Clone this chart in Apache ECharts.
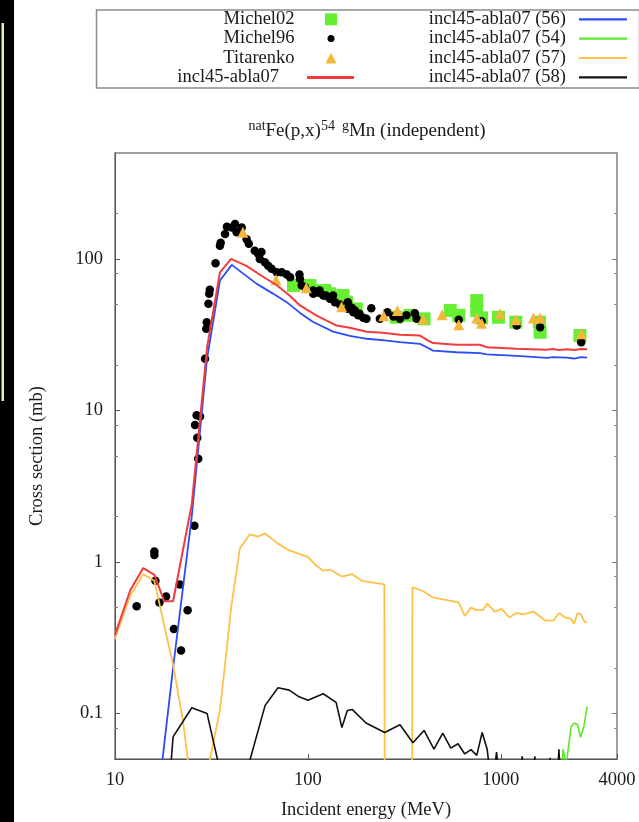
<!DOCTYPE html>
<html>
<head>
<meta charset="utf-8">
<script src="https://cdn.jsdelivr.net/npm/echarts@6/dist/echarts.min.js"></script>
<style>
  html, body { margin: 0; padding: 0; background: #fff; }
  #chart { width: 639px; height: 822px; }
</style>
</head>
<body>
<div id="chart"></div>
<script>
// natFe(p,x)54gMn independent cross section: measurements vs incl45-abla07
const FONT = '"Liberation Serif", "DejaVu Serif", serif';

const xTickValues = [10, 100, 1000, 4000];
const yTickValues = [0.1, 1, 10, 100];
const yMinorTickValues = [0.08, 0.2, 0.5, 0.8, 2, 5, 8, 20, 50, 80, 200];

// measurements [energy MeV, cross section mb]
const michel02 = [
  [84.2, 66.7], [102.5, 66.7], [113, 61.8], [122.5, 61.8], [130, 58.8], [149.5, 55.8],
  [152, 57.3], [158.5, 51.8], [178, 46.8], [287, 41.2], [338, 42.4], [400, 40.2],
  [547, 45.6], [605, 42.4], [750, 53.1], [750, 45.6], [795, 40.8], [972, 41.2],
  [1196, 38.2], [1585, 38.2], [1598, 32.8], [2570, 31.2]
];

const michel96 = [
  [12.95, 0.51], [16.0, 1.17], [16.0, 1.11], [16.2, 0.75], [17.0, 0.54], [18.4, 0.59],
  [20.2, 0.36], [21.7, 0.71], [22.0, 0.26], [23.8, 0.48], [25.8, 1.73], [26.0, 8.0],
  [26.5, 9.3], [26.7, 6.6], [27.0, 4.8], [27.6, 9.1], [29.3, 21.9], [29.7, 34.6],
  [29.9, 38.2], [30.5, 50.5], [30.8, 58.8], [31.0, 62.5], [33.2, 93.6], [35.0, 122],
  [35.3, 128], [37.2, 146], [38.0, 163], [40.3, 161], [41.9, 170], [42.7, 150],
  [45.4, 161], [48.1, 135], [49.4, 126], [53.0, 113], [55.2, 108], [57.4, 111],
  [56.3, 100], [59.8, 95], [62.2, 90], [64.8, 86], [68.9, 81.6], [73.1, 81.6],
  [77.7, 79], [80.9, 75.6], [90.4, 79], [91.0, 73.8], [92.9, 66.7], [96.6, 65],
  [106.6, 61.8], [106.6, 58.8], [113, 60], [115, 61.8], [120, 57.3], [124, 57.3],
  [130, 54.5], [135, 57.3], [138, 51.8], [146.5, 50], [161, 51.8], [161, 46.8],
  [168.6, 47.5], [172, 44.5], [175, 45.6], [182, 42.4], [185, 43.4], [193.5, 40.9],
  [201, 40.2], [213, 47.3], [236, 40.2], [258, 44.5], [277.5, 41.6], [300, 40.2],
  [324, 42.4], [358, 43.8], [366, 40.2], [605, 39.6], [795, 38.8], [1208, 36.3],
  [1598, 35.4], [2610, 28.2]
];

const titarenko = [
  [46, 150], [68.3, 72.7], [98.1, 64.4], [149.5, 48.4], [247, 42.2], [291, 45.6],
  [396, 40.2], [496, 42.8], [605, 36.7], [750, 40.8], [795, 37.6], [993, 43.4],
  [1196, 39.6], [1475, 40.8], [1598, 40.8], [2610, 32.0]
];

// incl45-abla07 calculations [energy MeV, cross section mb]
const calcTotal = [
  [10, 0.33], [12, 0.65], [14, 0.91], [16, 0.82], [18, 0.55], [20, 0.55],
  [25, 2.4], [30, 26], [35, 81.6], [40, 100], [48, 90], [57, 78], [69, 67],
  [80, 57.5], [91, 49.3], [111, 42.2], [141, 36.3], [165, 35.1], [202, 33],
  [244, 32.5], [300, 31.6], [381, 31.2], [420, 28.9], [445, 27.8], [590, 27.1],
  [780, 27.1], [845, 26.1], [1208, 25.5], [1729, 25.1], [1862, 25.4], [2000, 25.0],
  [2200, 25.3], [2400, 25.0], [2600, 25.4], [2800, 25.3]
];

const calc56 = [
  [17.5, 0.046], [20, 0.2], [25, 2.0], [30, 22], [35, 72], [40.3, 91.3],
  [54.3, 68.4], [65.9, 59.0], [77.6, 51.8], [91, 44], [106, 38.5], [135, 33.1],
  [165, 31], [202, 29.7], [250, 29], [300, 28.2], [381, 27.5], [413, 26.1],
  [445, 24.8], [590, 24.2], [780, 23.9], [845, 23.4], [1208, 22.9], [1729, 22.2],
  [1862, 22.5], [2196, 22.3], [2400, 22.0], [2600, 22.5], [2800, 22.3]
];

const calc54 = [
  [2050, 0.03], [2100, 0.058], [2180, 0.045], [2310, 0.0812], [2400, 0.0864],
  [2500, 0.0842], [2590, 0.0694], [2690, 0.0812], [2800, 0.1108]
];

const calc57 = [
  [10, 0.31], [12, 0.6], [14, 0.83], [16, 0.75], [18, 0.38], [20, 0.21],
  [22.5, 0.09], [25, 0.03], [30, 0.04], [35, 0.105], [38, 0.27], [40, 0.5],
  [44.4, 1.23], [50, 1.52], [55, 1.47], [60, 1.54], [70, 1.32], [80, 1.19],
  [100, 1.08], [110, 0.95], [120, 0.875], [130, 0.89], [150, 0.8], [170, 0.83],
  [190, 0.75], [249, 0.71], [251, 0.001], [346, 0.001], [348, 0.68], [396, 0.64],
  [447, 0.58], [605, 0.54], [650, 0.44], [700, 0.5], [750, 0.48], [805, 0.48],
  [850, 0.53], [930, 0.47], [1010, 0.49], [1105, 0.43], [1208, 0.46], [1310, 0.45],
  [1475, 0.47], [1695, 0.41], [1870, 0.41], [2010, 0.46], [2150, 0.43], [2310, 0.42],
  [2395, 0.39], [2500, 0.46], [2600, 0.45], [2720, 0.4], [2790, 0.4]
];

const calc58 = [
  [19, 0.03], [20, 0.07], [25, 0.109], [30, 0.1], [35, 0.042], [40, 0.01],
  [45, 0.01], [50, 0.049], [60, 0.113], [70, 0.1475], [80, 0.1424], [90, 0.1286],
  [100, 0.122], [120, 0.1348], [140, 0.1182], [150, 0.0806], [160, 0.1045],
  [170, 0.106], [200, 0.0864], [250, 0.0748], [300, 0.0841], [350, 0.064],
  [400, 0.0772], [450, 0.058], [500, 0.074], [550, 0.059], [600, 0.063],
  [650, 0.054], [700, 0.0577], [750, 0.0528], [800, 0.0748], [850, 0.0577],
  [900, 0.03], [950, 0.0555], [1000, 0.03], [1250, 0.03], [1290, 0.052],
  [1350, 0.03], [1450, 0.03], [1500, 0.052], [1550, 0.03], [1750, 0.03],
  [1800, 0.051], [1850, 0.03], [1950, 0.03], [2000, 0.058], [2050, 0.03]
];

const COLORS = {
  michel02: '#66ee33', michel96: '#000000', titarenko: '#f5b73b',
  total: '#f03c3c', c56: '#2d4cf5', c54: '#5aea2a', c57: '#fdc149', c58: '#111111'
};

const chart = echarts.init(document.getElementById('chart'), null, { renderer: 'canvas' });

const LEGEND_FONT = 18.5;

// one legend block per entry: text right-aligned, sample to its right
function legendEntry(name, iconRight, rowCenter, itemWidth, itemHeight, icon, gap) {
  return {
    data: [{ name: name, icon: icon }],
    right: 639 - iconRight,
    top: rowCenter - 9.5,
    orient: 'horizontal',
    align: 'right',
    padding: 0,
    itemGap: 0,
    itemWidth: itemWidth,
    itemHeight: itemHeight,
    selectedMode: false,
    formatter: n => '{t|' + n + '}',
    textStyle: {
      fontFamily: FONT, fontSize: LEGEND_FONT, color: '#1a1a1a',
      rich: { t: { fontFamily: FONT, fontSize: LEGEND_FONT, lineHeight: 19, color: '#1a1a1a', padding: [0, gap - 5, 0, 0] } }
    }
  };
}

const rows = [19.3, 38.6, 58, 77.4];
const TEXT_END_LEFT = 294.5;
const TEXT_END_RIGHT = 566;

function logAxisCommon() {
  return {
    type: 'log', logBase: 10, min: 0.05, max: 500,
    splitLine: { show: false }
  };
}

const yFormat = v => (v >= 1 ? String(Math.round(v)) : String(+v.toPrecision(2)));

const option = {
  animation: false,
  backgroundColor: '#ffffff',
  title: {
    text: '{s|nat}Fe(p,x){s|54\u2002g}Mn (independent)',
    left: 362,
    textAlign: 'center',
    top: 114,
    textStyle: {
      fontFamily: FONT, fontSize: 19, fontWeight: 'normal', color: '#1a1a1a', lineHeight: 24,
      rich: { s: { fontFamily: FONT, fontSize: 14, color: '#1a1a1a', verticalAlign: 'top', lineHeight: 14 } }
    }
  },
  legend: [
    legendEntry('Michel02', 337, rows[0], 12, 12, 'rect', 331 - 6 - TEXT_END_LEFT),
    legendEntry('Michel96', 334.5, rows[1], 7, 7, 'circle', 331 - 3.5 - TEXT_END_LEFT),
    legendEntry('Titarenko', 336.5, rows[2], 11, 11, 'triangle', 331 - 5.5 - TEXT_END_LEFT),
    legendEntry('incl45-abla07', 354, rows[3], 47, 3, 'rect', 307 - 279),
    legendEntry('incl45-abla07 (56)', 627, rows[0], 48, 2.2, 'rect', 579 - TEXT_END_RIGHT),
    legendEntry('incl45-abla07 (54)', 627, rows[1], 48, 2.2, 'rect', 579 - TEXT_END_RIGHT),
    legendEntry('incl45-abla07 (57)', 627, rows[2], 48, 2.2, 'rect', 579 - TEXT_END_RIGHT),
    legendEntry('incl45-abla07 (58)', 627, rows[3], 48, 2.2, 'rect', 579 - TEXT_END_RIGHT)
  ],
  grid: {
    left: 115, right: 22, top: 153, bottom: 63,
    outerBoundsMode: 'none',
    containLabel: false,
    show: true, borderColor: '#808080', borderWidth: 1.5, backgroundColor: 'transparent'
  },
  xAxis: [{
    type: 'log', logBase: 10, min: 10, max: 4000,
    position: 'bottom',
    name: 'Incident energy (MeV)',
    nameLocation: 'middle',
    nameGap: 42,
    nameTextStyle: { fontFamily: FONT, fontSize: 18.5, color: '#1a1a1a' },
    axisLine: { show: true, lineStyle: { color: '#555', width: 1 } },
    axisTick: { show: true, inside: true, length: 5, customValues: xTickValues, lineStyle: { color: '#555' } },
    axisLabel: {
      customValues: xTickValues, margin: 12,
      fontFamily: FONT, fontSize: 18.5, color: '#1a1a1a',
      formatter: v => String(Math.round(v))
    },
    splitLine: { show: false },
    minorTick: { show: false }
  }],
  yAxis: [
    Object.assign(logAxisCommon(), {
      position: 'left',
      name: 'Cross section (mb)',
      nameLocation: 'middle',
      nameGap: 68,
      nameTextStyle: { fontFamily: FONT, fontSize: 18.5, color: '#1a1a1a' },
      axisLine: { show: true, lineStyle: { color: '#555', width: 1 } },
      axisTick: { show: true, inside: true, length: 5, customValues: yTickValues, lineStyle: { color: '#555' } },
      axisLabel: {
        customValues: yTickValues, margin: 12,
        fontFamily: FONT, fontSize: 18.5, color: '#1a1a1a',
        formatter: yFormat
      }
    }),
    Object.assign(logAxisCommon(), {
      position: 'left',
      axisLine: { show: false },
      axisTick: { show: true, inside: true, length: 3, customValues: yMinorTickValues, lineStyle: { color: '#777' } },
      axisLabel: { show: false }
    }),
    Object.assign(logAxisCommon(), {
      position: 'right',
      axisLine: { show: false },
      axisTick: { show: true, inside: true, length: 5, customValues: yTickValues, lineStyle: { color: '#777' } },
      axisLabel: { show: false }
    }),
    Object.assign(logAxisCommon(), {
      position: 'right',
      axisLine: { show: false },
      axisTick: { show: true, inside: true, length: 3, customValues: yMinorTickValues, lineStyle: { color: '#888' } },
      axisLabel: { show: false }
    })
  ],
  graphic: [
    // dark strip along the left edge
    { type: 'rect', left: 0, top: 0, z: 100, shape: { width: 14, height: 822 }, style: { fill: '#000' } },
    { type: 'rect', left: 1.5, top: 23, z: 101, shape: { width: 2.5, height: 378 }, style: { fill: '#eef4a6' } },
    // legend frame
    { type: 'rect', left: 94, top: 7.5, z: 0, shape: { x: 0, y: 0, width: 543, height: 78 },
      style: { fill: 'none', stroke: '#8c8c8c', lineWidth: 1.5 } }
  ],
  series: [
    { name: 'Michel02', type: 'scatter', data: michel02, symbol: 'rect', symbolSize: 13,
      itemStyle: { color: COLORS.michel02, opacity: 1 }, z: 2 },
    { name: 'Michel96', type: 'scatter', data: michel96, symbol: 'circle', symbolSize: 8.5,
      itemStyle: { color: COLORS.michel96, opacity: 1 }, z: 3 },
    { name: 'Titarenko', type: 'scatter', data: titarenko, symbol: 'triangle', symbolSize: 11,
      itemStyle: { color: COLORS.titarenko, opacity: 1 }, z: 4 },
    { name: 'incl45-abla07', type: 'line', data: calcTotal, symbol: 'none', showSymbol: false,
      lineStyle: { color: COLORS.total, width: 2 }, itemStyle: { color: COLORS.total }, z: 6 },
    { name: 'incl45-abla07 (56)', type: 'line', data: calc56, symbol: 'none', showSymbol: false,
      lineStyle: { color: COLORS.c56, width: 1.8 }, itemStyle: { color: COLORS.c56 }, z: 5 },
    { name: 'incl45-abla07 (54)', type: 'line', data: calc54, symbol: 'none', showSymbol: false,
      lineStyle: { color: COLORS.c54, width: 1.6 }, itemStyle: { color: COLORS.c54 }, z: 5 },
    { name: 'incl45-abla07 (57)', type: 'line', data: calc57, symbol: 'none', showSymbol: false,
      lineStyle: { color: COLORS.c57, width: 1.8 }, itemStyle: { color: COLORS.c57 }, z: 5 },
    { name: 'incl45-abla07 (58)', type: 'line', data: calc58, symbol: 'none', showSymbol: false,
      lineStyle: { color: COLORS.c58, width: 1.6 }, itemStyle: { color: COLORS.c58 }, z: 5 }
  ]
};

chart.setOption(option);
</script>
</body>
</html>
